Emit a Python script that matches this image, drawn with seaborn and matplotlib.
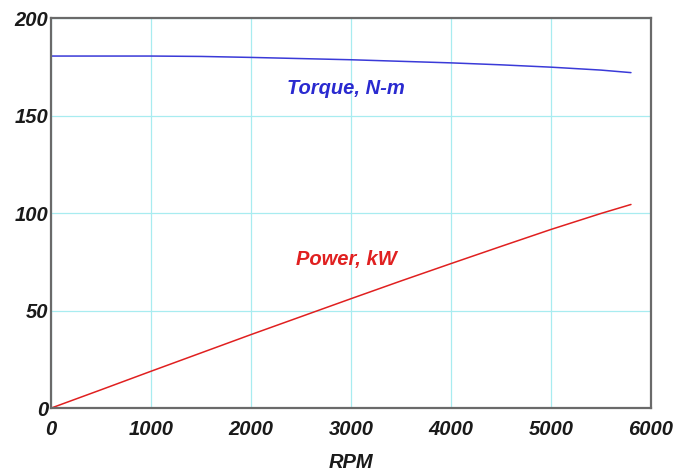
"""
Engine curve chart: torque and power vs RPM
"""

import matplotlib
matplotlib.use("Agg")
import matplotlib.pyplot as plt
import seaborn as sns
import pandas as pd

# Values
rpm = [0, 500, 1000, 1500, 2000, 2500, 3000, 3500, 4000, 4500, 5000, 5500, 5800]
torque_nm = [180.5, 180.5, 180.5, 180.3, 179.8, 179.2, 178.6, 177.8, 177.0, 176.0, 174.8, 173.3, 172.0]
power_kw = [0.0, 9.4, 18.9, 28.3, 37.7, 46.9, 56.1, 65.2, 74.1, 82.9, 91.6, 99.8, 104.4]

x_ticks = [0, 1000, 2000, 3000, 4000, 5000, 6000]
y_ticks = [0, 50, 100, 150, 200]

df = pd.DataFrame({"RPM": rpm, "Torque": torque_nm, "Power": power_kw})

sns.set_theme(style="white")
plt.rcParams['font.family'] = ['Liberation Sans', 'DejaVu Sans']

fig = plt.figure(figsize=(6.75, 4.74), dpi=100)
ax = fig.add_axes([0.0756, 0.139, 0.8888, 0.823])

sns.lineplot(data=df, x="RPM", y="Torque", ax=ax, color="#3a3ad8", linewidth=1.1)
sns.lineplot(data=df, x="RPM", y="Power", ax=ax, color="#e02020", linewidth=1.1)

tick_font = dict(fontsize=14.5, fontweight='bold', fontstyle='italic', color='#1a1a1a')

ax.set_xlim(0, 6000)
ax.set_ylim(0, 200)
ax.set_xticks(x_ticks)
ax.set_yticks(y_ticks)
ax.set_xticklabels([str(t) for t in x_ticks], **tick_font)
ax.set_yticklabels([str(t) for t in y_ticks], **tick_font)
ax.tick_params(axis='x', length=0, pad=8.5)
ax.tick_params(axis='y', length=0, pad=2)

ax.set_xlabel('RPM', labelpad=10, **tick_font)
ax.set_ylabel('')

# Light cyan grid
ax.grid(True, color='#a8ecf0', linewidth=0.9)

for side in ax.spines.values():
    side.set_color('#6a6a6a')
    side.set_linewidth(1.6)

# Curve labels
ax.text(2950, 164, 'Torque, N-m', color='#2a2ad0', fontsize=14.5, fontweight='bold',
        fontstyle='italic', ha='center', va='center')
ax.text(2950, 76, 'Power, kW', color='#e02020', fontsize=14.5, fontweight='bold',
        fontstyle='italic', ha='center', va='center')

fig.savefig('out.png', dpi=100)
